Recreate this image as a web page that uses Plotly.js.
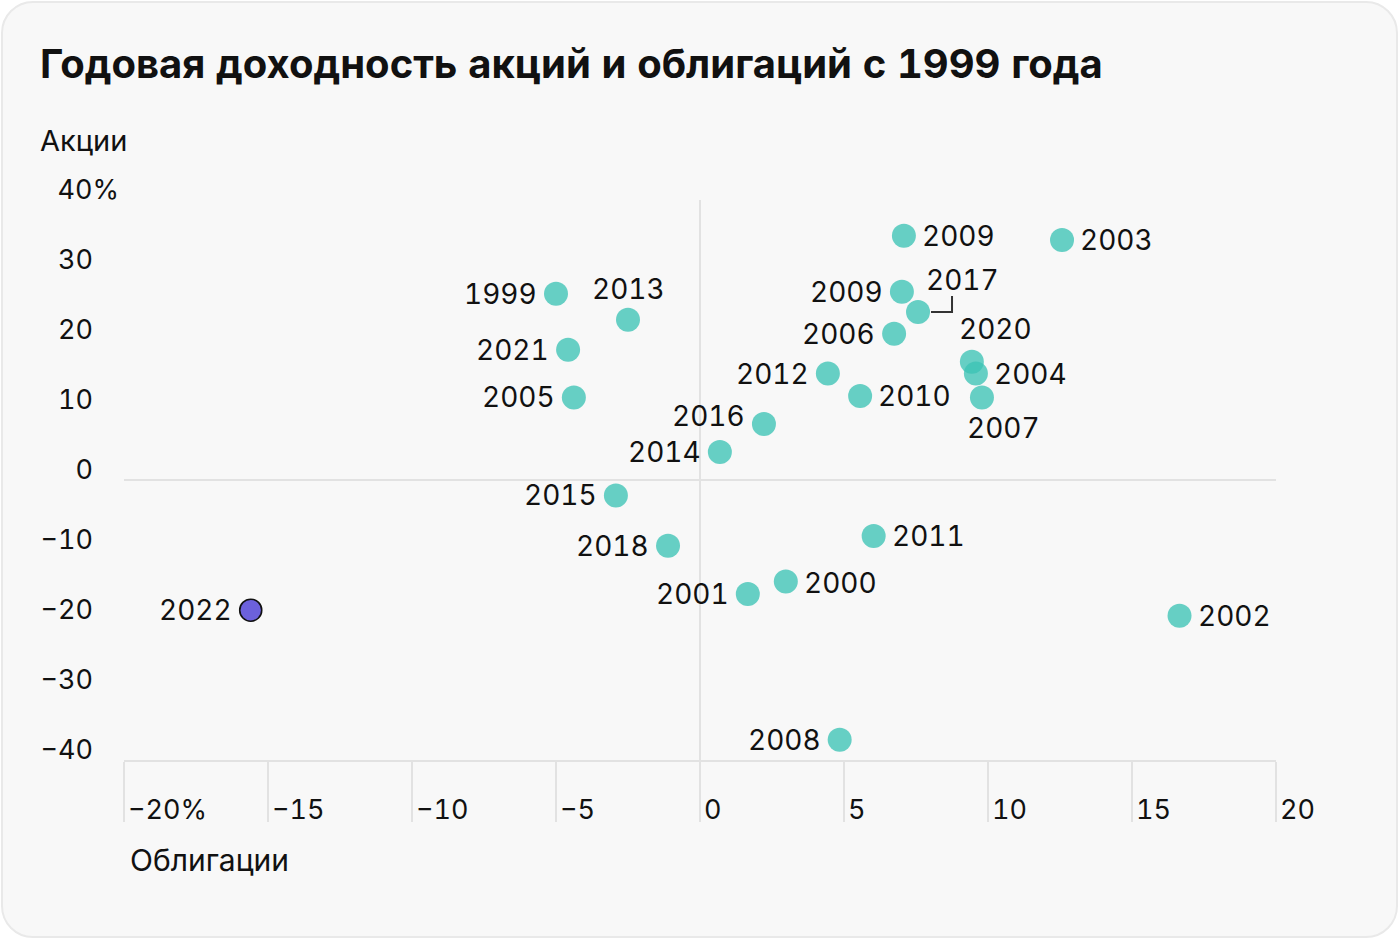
<!DOCTYPE html>
<html>
<head>
<meta charset="utf-8">
<script src="https://cdn.plot.ly/plotly-3.0.1.min.js"></script>
<style>
  html, body { margin: 0; padding: 0; background: #ffffff; }
  #card { position: absolute; left: 1px; top: 1px; width: 1397px; height: 937px; box-sizing: border-box;
          border: 2px solid #e9e9e9; border-radius: 32px; background: #f8f8f8; }
  #chart { position: absolute; left: 0; top: 0; width: 1400px; height: 940px; }
  text, tspan { font-feature-settings: "tnum" 1; font-variant-numeric: tabular-nums; }
</style>
</head>
<body>
<div id="card"></div>
<div id="chart"></div>
<script>
// ---- data ----
const years  = ['1999','2000','2001','2002','2003','2004','2005','2006','2007','2008','2009','2009','2010','2011','2012','2013','2014','2015','2016','2017','2018','2020','2021','2022'];
const bonds  = [-5.0, 2.98, 1.66, 16.65, 12.57, 9.58, -4.38, 6.74, 9.79, 4.85, 7.08, 7.01, 5.56, 6.03, 4.44, -2.5, 0.69, -2.92, 2.22, 7.57, -1.11, 9.44, -4.58, -15.6];
const stocks = [26.6, -14.5, -16.3, -19.4, 34.3, 15.2, 11.8, 20.9, 11.8, -37.1, 34.9, 26.9, 12.0, -8.0, 15.2, 22.9, 4.0, -2.2, 8.0, 24.0, -9.4, 16.9, 18.6, -18.6];
const highlightYear = '2022';

const xTickVals = [-20, -15, -10, -5, 0, 5, 10, 15, 20];
const xTickText = ['\u221220%', '\u221215', '\u221210', '\u22125', '0', '5', '10', '15', '20'];
const yTickVals = [-40, -30, -20, -10, 0, 10, 20, 30];
const yTickText = ['\u221240', '\u221230', '\u221220', '\u221210', '0', '10', '20', '30'];
const yTopVal = [40];
const yTopText = ['40%'];

// label placement per point: [anchor, xshift, yshift]
const placement = [
  ['L',0,0],['R',0,-1.5],['L',0,0],['R',0,0],['R',0,0],['R',0,0],['L',0,0],['L',0,0],
  ['C',22,-31],['L',0,0],['R',0,0],['L',0,0],['R',0,0],['R',0,0],['L',0,0],['C',0,31],
  ['L',0,0],['L',0,0],['L',0,8],['C',44,32],['L',0,0],['C',24,33],['L',0,0],['L',0,0]
];

const FONT = 'Inter, "Noto Sans", sans-serif';
const TEAL = 'rgb(60,195,181)';
const PURPLE = '#6c61dc';
const GRID = '#e2e2e2';

const isHi = years.map(y => y === highlightYear);
const idxMain = years.map((y, i) => i).filter(i => !isHi[i]);
const idxHi = years.map((y, i) => i).filter(i => isHi[i]);

const traces = [
  {
    type: 'scatter', mode: 'markers',
    x: idxMain.map(i => bonds[i]), y: idxMain.map(i => stocks[i]),
    text: idxMain.map(i => years[i]),
    marker: { size: 24, color: TEAL, opacity: 0.78, line: { width: 0 } },
    hoverinfo: 'text', cliponaxis: false, showlegend: false
  },
  {
    type: 'scatter', mode: 'markers',
    x: idxHi.map(i => bonds[i]), y: idxHi.map(i => stocks[i]),
    text: idxHi.map(i => years[i]),
    marker: { size: 22, color: PURPLE, line: { width: 1.6, color: '#111' } },
    hoverinfo: 'text', cliponaxis: false, showlegend: false
  },
  {
    type: 'scatter', mode: 'markers', x: [0], y: [40], yaxis: 'y2',
    marker: { opacity: 0 }, hoverinfo: 'skip', showlegend: false
  }
];

const annotations = years.map((yr, i) => {
  const p = placement[i];
  const a = { x: bonds[i], y: stocks[i], xref: 'x', yref: 'y', text: yr, showarrow: false,
              borderpad: 0, yanchor: 'middle', font: { family: FONT, size: 28, color: '#111' } };
  if (p[0] === 'L') { a.xanchor = 'right'; a.xshift = -18 + p[1]; }
  else if (p[0] === 'R') { a.xanchor = 'left'; a.xshift = 17 + p[1]; }
  else { a.xanchor = 'center'; a.xshift = p[1]; }
  a.yshift = p[2];
  return a;
});
annotations.push(
  { xref: 'paper', yref: 'paper', x: 0, y: 1, xanchor: 'left', yanchor: 'middle', xshift: -85, yshift: 60,
    text: 'Акции', showarrow: false, borderpad: 0, font: { family: FONT, size: 29, color: '#111' } },
  { xref: 'paper', yref: 'paper', x: 0, y: 0, xanchor: 'left', yanchor: 'middle', xshift: 5, yshift: -100,
    text: 'Облигации', showarrow: false, borderpad: 0, font: { family: FONT, size: 30, color: '#111' } }
);

const i2017 = years.indexOf('2017');
const shapes = [
  { type: 'path', xref: 'x', yref: 'y', xsizemode: 'pixel', ysizemode: 'pixel',
    xanchor: bonds[i2017], yanchor: stocks[i2017], path: 'M13,0 L34,0 L34,16',
    line: { color: '#333', width: 2 } }
];

const layout = {
  width: 1400, height: 940,
  paper_bgcolor: 'rgba(0,0,0,0)', plot_bgcolor: 'rgba(0,0,0,0)',
  margin: { l: 124, r: 124, t: 200, b: 180 },
  title: { text: 'Годовая доходность акций и облигаций с 1999 года', xref: 'container', yref: 'container',
           x: 40 / 1400, xanchor: 'left', y: 1 - 64 / 940, yanchor: 'middle',
           font: { family: FONT, size: 40, weight: 700, color: '#111' } },
  xaxis: {
    range: [-20, 20], tickmode: 'array', tickvals: xTickVals, ticktext: xTickText,
    showgrid: false, zeroline: true, zerolinecolor: GRID, zerolinewidth: 2,
    showline: true, linecolor: GRID, linewidth: 2,
    ticks: 'outside', ticklen: 60, tickwidth: 2, tickcolor: GRID,
    ticklabelposition: 'outside right', ticklabelstandoff: 25, ticklabelshift: 2,
    tickfont: { family: FONT, size: 27, color: '#111' }, fixedrange: true
  },
  yaxis: {
    range: [-40, 40], tickmode: 'array', tickvals: yTickVals, ticktext: yTickText,
    showgrid: false, zeroline: true, zerolinecolor: GRID, zerolinewidth: 2,
    showline: false, ticks: '', ticklabelstandoff: 30, ticklabelshift: -10,
    tickfont: { family: FONT, size: 27, color: '#111' }, fixedrange: true
  },
  yaxis2: {
    overlaying: 'y', side: 'left', range: [-40, 40], tickmode: 'array', tickvals: yTopVal, ticktext: yTopText,
    showgrid: false, zeroline: false, showline: false, ticks: '', ticklabelstandoff: 4, ticklabelshift: -10,
    tickfont: { family: FONT, size: 27, color: '#111' }, fixedrange: true
  },
  annotations: annotations,
  shapes: shapes,
  hovermode: 'closest'
};

Plotly.newPlot('chart', traces, layout, { displayModeBar: false, staticPlot: true });
</script>
</body>
</html>
